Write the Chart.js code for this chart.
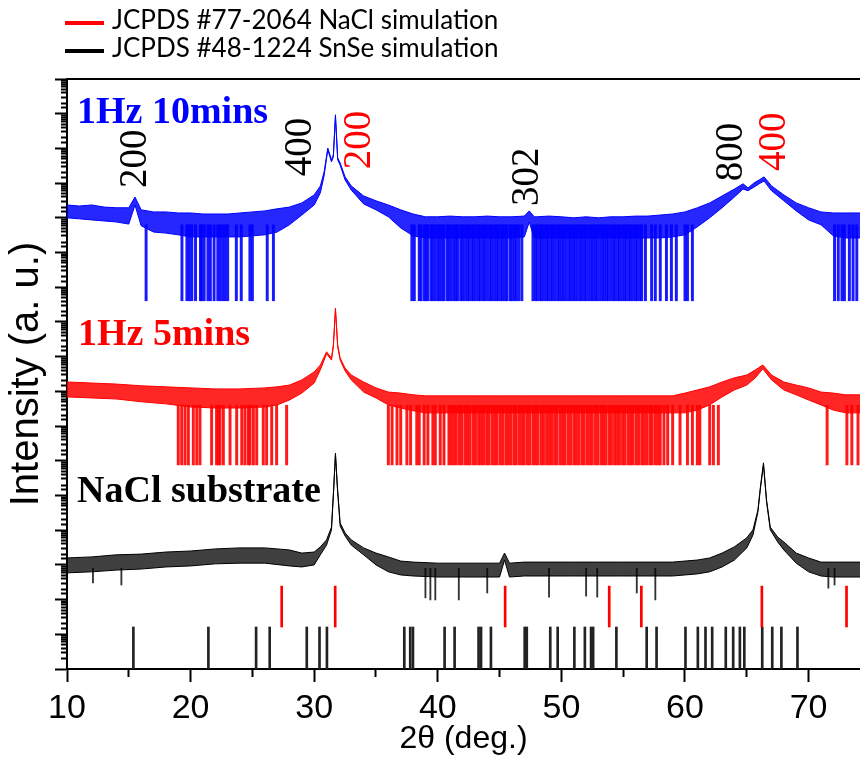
<!DOCTYPE html>
<html>
<head>
<meta charset="utf-8">
<script src="https://cdn.jsdelivr.net/npm/chart.js"></script>
<style>
  body { margin: 0; background: #fff; }
  #wrap { width: 860px; height: 762px; }
</style>
</head>
<body>
<div id="wrap"><canvas id="xrd-chart" width="860" height="762"></canvas></div>
<script>
// intensities are stored as log10 values (the y axis is logarithmic, no labels)

// 1Hz 10mins (blue) - upper / lower edge of the noise band
const blueX = [10, 11, 12, 13, 14, 15, 15.5, 16, 17, 18, 19, 20, 21, 22, 23, 24, 25, 26, 27, 28, 29, 30,
  30.5, 30.8, 31.1, 31.4, 31.55, 31.72, 31.9, 32.1, 32.5, 33, 34, 35, 36, 37, 38, 39, 40, 41, 42, 43, 44, 45, 46, 47,
  47.4, 47.8, 48, 49, 50, 51, 52, 53, 54, 55, 56, 57, 58, 59, 60, 61, 62, 63, 64,
  64.7, 65.1, 65.6, 66.0, 66.4, 67, 68, 69, 70, 71, 72, 73, 74.2];
const blueHi = [13.37, 13.34, 13.37, 13.31, 13.29, 13.29, 13.60, 13.23, 13.17, 13.17, 13.14, 13.14, 13.11, 13.11, 13.11, 13.14, 13.17, 13.20, 13.26, 13.31, 13.43, 13.66,
  13.92, 14.32, 15.01, 14.67, 14.81, 15.97, 14.73, 14.58, 14.18, 13.92, 13.63, 13.49, 13.37, 13.23, 13.11, 13.03, 13.03, 13.05, 13.03, 13.03, 13.05, 13.03, 13.03, 13.05,
  13.20, 13.03, 13.03, 13.05, 13.03, 13.00, 13.03, 13.00, 13.03, 13.03, 13.05, 13.05, 13.08, 13.11, 13.17, 13.29, 13.43, 13.63, 13.83,
  13.98, 13.86, 14.01, 14.09, 14.18, 13.92, 13.66, 13.43, 13.29, 13.17, 13.14, 13.14, 13.14];
const blueLo = [13.00, 12.97, 12.94, 12.91, 12.88, 12.82, 13.37, 12.77, 12.59, 12.56, 12.51, 12.45, 12.45, 12.45, 12.45, 12.45, 12.48, 12.51, 12.59, 12.80, 13.08, 13.37,
  13.72, 14.21, 14.96, 14.61, 14.76, 15.91, 14.67, 14.52, 14.09, 13.80, 13.40, 13.23, 13.03, 12.71, 12.48, 12.42, 12.42, 12.42, 12.42, 12.42, 12.42, 12.42, 12.42, 12.45,
  12.88, 12.42, 12.42, 12.42, 12.42, 12.42, 12.42, 12.42, 12.42, 12.42, 12.42, 12.42, 12.42, 12.45, 12.51, 12.74, 13.00, 13.29, 13.60,
  13.83, 13.78, 13.89, 13.98, 14.06, 13.78, 13.49, 13.20, 12.94, 12.80, 12.48, 12.42, 12.42];
const blueDipX = [16.4, 19.3, 19.7, 19.9, 20.1, 20.4, 20.8, 20.9, 21.1, 21.4, 21.6, 21.9, 22.2, 22.4, 22.6, 22.8, 23.0, 23.7, 24.1, 24.8, 25.0, 26.2, 26.7,
  37.9, 38.1, 38.5, 38.65, 38.9, 39.05, 39.2, 39.45, 39.6, 39.8, 40.0, 40.15, 40.35, 40.5, 40.75, 40.9, 41.1, 41.3, 41.45, 41.6, 41.85, 42.0,
  42.2, 42.4, 42.55, 42.75, 42.9, 43.1, 43.3, 43.45, 43.65, 43.8, 44.0, 44.2, 44.35, 44.55, 44.75, 44.9, 45.1, 45.25, 45.45, 45.6, 45.85, 46.0,
  46.2, 46.35, 46.55, 46.8, 47.7, 47.9, 48.05, 48.25, 48.4, 48.6, 48.8, 48.95, 49.15, 49.3, 49.5, 49.7, 49.85, 50.05, 50.2, 50.4, 50.6, 50.75,
  50.95, 51.1, 51.3, 51.5, 51.65, 51.85, 52.0, 52.2, 52.4, 52.55, 52.75, 52.9, 53.1, 53.3, 53.45, 53.65, 53.8, 54.0, 54.2, 54.35, 54.55, 54.7,
  54.9, 55.1, 55.25, 55.45, 55.6, 55.8, 56.0, 56.15, 56.35, 56.5, 56.8, 57.3, 57.6, 58.0, 58.5, 58.9, 59.3, 60.0, 60.2, 60.6,
  72.1, 72.4, 72.7, 72.9, 73.3, 73.6, 73.9];

// 1Hz 5mins (red)
const redX = [10, 12, 14, 16, 18, 20, 22, 24, 26, 27, 28, 29, 30, 30.5, 31.0, 31.4, 31.55, 31.72, 31.9, 32.1, 32.5,
  33, 34, 35, 36, 37, 38, 39, 41, 43, 45, 47, 49, 51, 53, 55, 57, 59, 60, 61, 62, 63, 64, 65, 65.7, 66.3,
  67, 68, 69, 70, 71, 72, 73, 74.2];
const redHi = [8.27, 8.24, 8.21, 8.16, 8.13, 8.10, 8.07, 8.07, 8.10, 8.13, 8.18, 8.33, 8.56, 8.76, 9.14, 8.96, 9.34, 10.40, 9.34, 8.96, 8.67,
  8.47, 8.27, 8.10, 7.98, 7.95, 7.90, 7.87, 7.87, 7.87, 7.87, 7.87, 7.87, 7.87, 7.87, 7.87, 7.87, 7.87, 7.95, 8.04, 8.13, 8.27, 8.39, 8.47, 8.62, 8.76,
  8.47, 8.27, 8.18, 8.10, 7.98, 7.95, 7.90, 7.90];
const redLo = [7.84, 7.81, 7.78, 7.70, 7.64, 7.55, 7.52, 7.52, 7.55, 7.61, 7.75, 7.95, 8.24, 8.62, 9.08, 8.90, 9.28, 10.35, 9.28, 8.90, 8.59,
  8.33, 7.98, 7.81, 7.61, 7.52, 7.44, 7.38, 7.38, 7.38, 7.38, 7.38, 7.38, 7.38, 7.38, 7.38, 7.38, 7.38, 7.38, 7.46, 7.61, 7.84, 8.04, 8.18, 8.39, 8.65,
  8.33, 8.04, 7.90, 7.75, 7.61, 7.46, 7.38, 7.38];
const redDipX = [19.0, 19.28, 19.55, 19.82, 20.22, 20.5, 20.76, 21.7, 22.1, 22.24, 22.38, 22.65, 23.19, 23.73, 24.14, 24.4, 24.67, 24.81, 25.08, 25.35,
  25.88, 26.15, 26.56, 26.96, 27.77, 36.0, 36.3, 36.7, 37.0, 37.5, 37.8, 38.3, 38.5, 38.9, 39.2, 39.6, 39.8, 40.2, 40.5, 40.9, 41.1,
  41.3, 41.5, 41.75, 41.95, 42.2, 42.4, 42.6, 42.85, 43.05, 43.3, 43.5, 43.7, 43.95, 44.15, 44.4, 44.6, 44.8, 45.05, 45.25, 45.5, 45.7, 45.9,
  46.15, 46.35, 46.6, 46.8, 47.0, 47.25, 47.45, 47.7, 47.9, 48.1, 48.35, 48.55, 48.8, 49.0, 49.2, 49.45, 49.65, 49.9, 50.1, 50.3, 50.55, 50.75,
  51.0, 51.2, 51.4, 51.65, 51.85, 52.1, 52.3, 52.5, 52.75, 52.95, 53.2, 53.4, 53.6, 53.85, 54.05, 54.3, 54.5, 54.7, 54.95, 55.15, 55.4, 55.6,
  55.8, 56.05, 56.25, 56.5, 56.7, 56.9, 57.15, 57.35, 57.6, 57.8, 58.0, 58.3, 58.6, 59.0, 59.6, 60.2, 60.6, 61.0, 61.2, 62.0, 62.3, 62.7,
  71.5, 73.1, 73.5, 74.0];

// NaCl substrate (black)
const blackX = [10, 12, 14, 16, 18, 20, 22, 24, 26, 28, 29, 30, 30.5, 31.0, 31.4, 31.58, 31.72, 31.88, 32.1, 32.5,
  33, 34, 35, 36, 37, 38, 40, 42, 44, 45, 45.4, 45.8, 47, 49, 51, 53, 55, 57, 59, 61, 62, 63, 64, 65,
  65.5, 65.9, 66.1, 66.35, 66.6, 66.9, 67.5, 68, 69, 70, 71, 72, 74.2];
const blackHi = [3.20, 3.23, 3.29, 3.31, 3.37, 3.40, 3.46, 3.49, 3.49, 3.43, 3.34, 3.37, 3.52, 3.72, 4.09, 5.24, 6.22, 5.24, 4.21, 3.92,
  3.72, 3.49, 3.34, 3.23, 3.11, 3.08, 3.05, 3.05, 3.05, 3.05, 3.34, 3.05, 3.08, 3.08, 3.08, 3.08, 3.08, 3.08, 3.08, 3.14, 3.20, 3.34, 3.52, 3.78,
  4.01, 4.58, 5.24, 5.94, 4.87, 4.09, 3.80, 3.66, 3.34, 3.20, 3.08, 3.08, 3.08];
const blackLo = [2.77, 2.80, 2.85, 2.88, 2.94, 2.97, 3.03, 3.05, 3.05, 2.97, 2.94, 3.00, 3.29, 3.57, 4.01, 5.19, 6.17, 5.19, 4.12, 3.83,
  3.57, 3.29, 3.00, 2.80, 2.71, 2.68, 2.65, 2.65, 2.65, 2.65, 3.14, 2.65, 2.68, 2.68, 2.68, 2.68, 2.68, 2.68, 2.68, 2.74, 2.80, 2.94, 3.14, 3.49,
  3.86, 4.52, 5.19, 5.88, 4.81, 4.01, 3.66, 3.43, 3.05, 2.80, 2.68, 2.65, 2.65];
const blackDipX = [12.1, 14.4, 39.0, 39.4, 39.8, 41.7, 44.0, 49.0, 52.0, 52.9, 56.1, 57.6, 71.6, 72.1];
const blackDipLow = [2.48, 2.42, 2.05, 1.99, 1.99, 1.99, 2.19, 2.07, 2.10, 2.07, 2.19, 1.99, 2.33, 2.42];

// floors / tops of the dropouts (log10)
const blueFloor = 10.61, blueDipTop = 12.8;
const redFloor = 5.88, redDipTop = 7.6;
const blackDipTop = 2.9;

// reference patterns
const naclPos = [27.37, 31.70, 45.45, 53.87, 56.47, 66.22, 73.07];
const snsePos = [15.37, 21.44, 25.3, 26.4, 29.4, 30.43, 31.03, 37.29, 37.77, 37.99, 40.55, 41.36, 43.3, 43.5, 44.3,
  47.03, 47.2, 49.1, 49.7, 51.05, 51.9, 52.4, 52.57, 54.45, 56.9, 57.7, 60.04, 61.04, 61.66, 62.2, 63.3, 63.9,
  64.44, 64.8, 66.25, 67.06, 67.8, 69.1];
const naclStick = [1.21, 2.39];
const snseStick = [0, 1.21];

const legendLabels = ['JCPDS #77-2064 NaCl simulation', 'JCPDS #48-1224 SnSe simulation'];
const legendColors = ['#ff0000', '#000000'];

const traceText = ['1Hz 10mins', '1Hz 5mins', 'NaCl substrate'];
const traceColors = ['#0000ff', '#ff0000', '#000000'];
const traceLabelX = [10.81, 10.89, 10.81];
const traceLabelY = [15.73, 9.34, 4.81];

const peakText = ['200', '400', '200', '302', '800', '400'];
const peakColors = ['#000000', '#000000', '#ff0000', '#000000', '#000000', '#ff0000'];
const peakLabelX = [15.59, 28.95, 33.72, 47.25, 63.77, 67.25];
const peakLabelY = [14.70, 15.04, 15.24, 14.18, 14.90, 15.19];

const xTicks = [10, 15, 20, 25, 30, 35, 40, 45, 50, 55, 60, 65, 70];
const X_MIN = 10, X_MAX = 74.16;

const LOG = (v) => Math.pow(10, v);

function band(xs, hi, lo, color, fillColor) {
    return [
        {
            type: 'line',
            data: xs.map((x, i) => ({ x: x, y: LOG(hi[i]) })),
            borderColor: color,
            borderWidth: 1,
            backgroundColor: fillColor,
            fill: '+1',
            pointRadius: 0,
            tension: 0,
        },
        {
            type: 'line',
            data: xs.map((x, i) => ({ x: x, y: LOG(lo[i]) })),
            borderColor: color,
            borderWidth: 1,
            fill: false,
            pointRadius: 0,
            tension: 0,
        },
    ];
}

function bars(xs, lo, hi, color, thickness) {
    return {
        type: 'bar',
        data: xs.map((x, i) => ({ x: x, y: [LOG(Array.isArray(lo) ? lo[i] : lo), LOG(hi)] })),
        backgroundColor: color,
        borderWidth: 0,
        barThickness: thickness,
        grouped: false,
    };
}

const isDecade = (v) => Math.abs(Math.log10(v) - Math.round(Math.log10(v))) < 1e-6;

const textPlugin = {
    id: 'xrdText',
    afterDraw(chart) {
        const { ctx } = chart;
        const xs = chart.scales.x, ys = chart.scales.y;
        ctx.save();

        // legend
        legendLabels.forEach((t, i) => {
            const ly = 23 + i * 28;
            ctx.strokeStyle = legendColors[i];
            ctx.lineWidth = 4;
            ctx.beginPath();
            ctx.moveTo(65, ly);
            ctx.lineTo(104, ly);
            ctx.stroke();
            ctx.fillStyle = '#000';
            ctx.font = '26px Lato';
            ctx.textAlign = 'left';
            ctx.textBaseline = 'alphabetic';
            ctx.fillText(t, 112, ly + 6);
        });

        // trace names
        ctx.font = 'bold 38px "Liberation Serif"';
        traceText.forEach((t, i) => {
            ctx.fillStyle = traceColors[i];
            ctx.fillText(t, xs.getPixelForValue(traceLabelX[i]), ys.getPixelForValue(LOG(traceLabelY[i])));
        });

        // peak indices
        ctx.font = '39px "Liberation Serif"';
        ctx.textAlign = 'center';
        ctx.textBaseline = 'middle';
        peakText.forEach((t, i) => {
            ctx.save();
            ctx.translate(xs.getPixelForValue(peakLabelX[i]), ys.getPixelForValue(LOG(peakLabelY[i])));
            ctx.rotate(-Math.PI / 2);
            ctx.fillStyle = peakColors[i];
            ctx.fillText(t, 0, 0);
            ctx.restore();
        });
        ctx.restore();
    }
};

const datasets = [
    ...band(blueX, blueHi, blueLo, '#0000ff', 'rgba(0,0,255,0.85)'),
    bars(blueDipX, blueFloor, blueDipTop, 'rgba(0,0,255,0.9)', 2.3),
    ...band(redX, redHi, redLo, '#ff0000', 'rgba(255,0,0,0.85)'),
    bars(redDipX, redFloor, redDipTop, 'rgba(255,0,0,0.9)', 2.3),
    ...band(blackX, blackHi, blackLo, '#000000', 'rgba(0,0,0,0.75)'),
    bars(blackDipX, blackDipLow, blackDipTop, 'rgba(0,0,0,0.8)', 1.2),
    bars(naclPos, naclStick[0], naclStick[1], '#ff0000', 2),
    bars(snsePos, snseStick[0], snseStick[1], '#222222', 2),
];

new Chart(document.getElementById('xrd-chart').getContext('2d'), {
    type: 'line',
    data: { datasets: datasets },
    options: {
        responsive: false,
        devicePixelRatio: 1,
        animation: false,
        layout: { padding: { top: 79, left: 0, right: 0, bottom: 0 } },
        plugins: {
            legend: { display: false },
            tooltip: { enabled: false },
        },
        scales: {
            x: {
                type: 'linear',
                position: 'bottom',
                min: X_MIN,
                max: X_MAX,
                offset: false,
                afterBuildTicks: (scale) => { scale.ticks = xTicks.map((v) => ({ value: v })); },
                afterFit: (scale) => { scale.height = 93; },
                grid: {
                    offset: false,
                    drawOnChartArea: false,
                    tickLength: 13,
                    tickWidth: 2,
                    tickColor: '#000',
                    tickBorderDash: (ctx) => (ctx.tick && ctx.tick.value % 10 === 0 ? [] : [7, 100]),
                },
                border: { color: '#000', width: 2 },
                ticks: {
                    autoSkip: false,
                    maxRotation: 0,
                    padding: 6,
                    color: '#000',
                    font: { family: 'Liberation Sans', size: 34 },
                    callback: (v) => (v % 10 === 0 ? String(v) : ''),
                },
                title: {
                    display: true,
                    text: '2θ (deg.)',
                    color: '#000',
                    font: { family: 'Liberation Sans', size: 32 },
                    padding: { top: 0, bottom: 4 },
                },
            },
            x2: {
                type: 'linear',
                position: 'top',
                min: X_MIN,
                max: X_MAX,
                afterFit: (scale) => { scale.height = 0; },
                grid: { drawOnChartArea: false, drawTicks: false },
                border: { color: '#000', width: 2 },
                ticks: { display: false },
            },
            y: {
                type: 'logarithmic',
                position: 'left',
                min: 1,
                max: 1e17,
                afterFit: (scale) => { scale.width = 67; },
                grid: {
                    drawOnChartArea: false,
                    tickLength: 12,
                    tickWidth: 2,
                    tickColor: '#000',
                    tickBorderDash: (ctx) => (ctx.tick && isDecade(ctx.tick.value) ? [] : [0, 6, 6, 100]),
                },
                border: { color: '#000', width: 2 },
                ticks: { display: false, autoSkip: false },
                title: {
                    display: true,
                    text: 'Intensity (a. u.)',
                    color: '#000',
                    font: { family: 'Liberation Sans', size: 40 },
                    padding: { top: 3, bottom: 0 },
                },
            },
        },
    },
    plugins: [textPlugin],
});
</script>
</body>
</html>
